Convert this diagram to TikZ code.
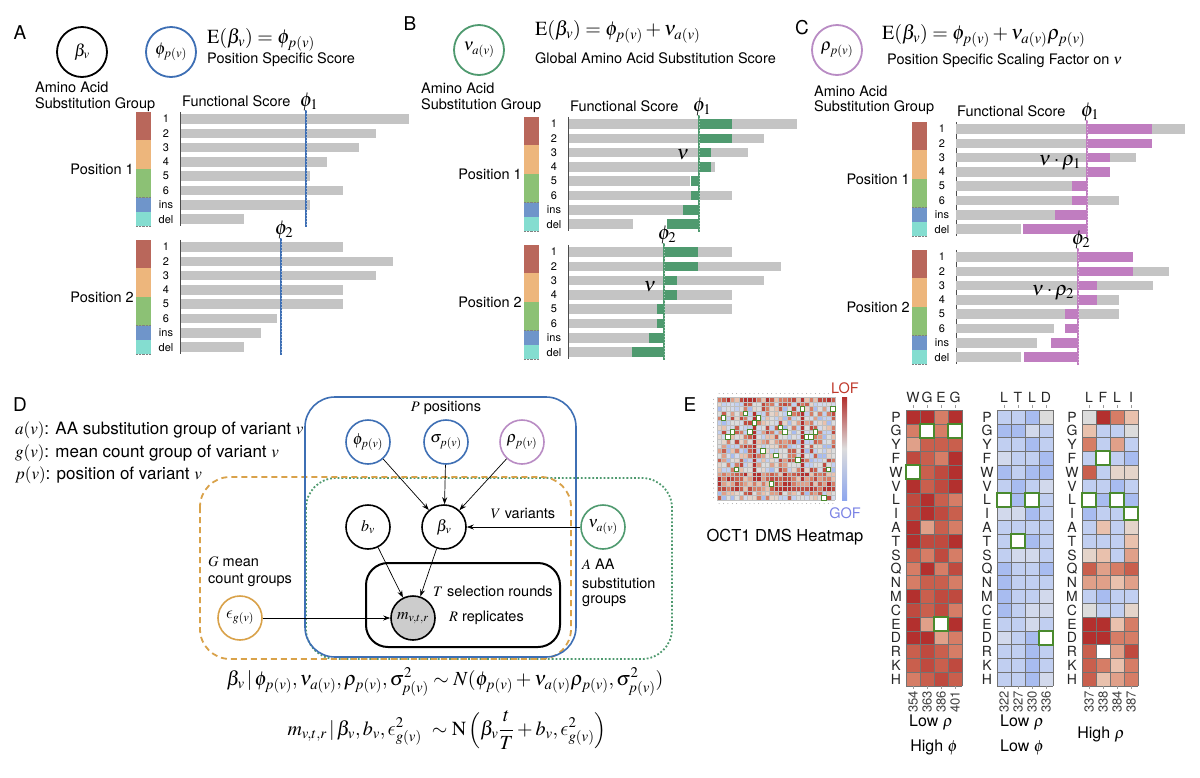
\documentclass[tikz,border=0pt]{standalone}
\usepackage{mathptmx}
\usepackage[no-math]{fontspec}
\setmainfont{TeX Gyre Heros}
\usetikzlibrary{arrows.meta}
% lunate epsilon from Computer Modern
\DeclareSymbolFont{cmletters}{OML}{cmm}{m}{it}
\DeclareMathSymbol{\lunateps}{\mathord}{cmletters}{"0F}

% substitution group colours
\definecolor{aared}{HTML}{B9675B}
\definecolor{aaorange}{HTML}{EDB67C}
\definecolor{aagreen}{HTML}{8CC175}
\definecolor{aablue}{HTML}{6F95CA}
\definecolor{aateal}{HTML}{84DDD0}
\definecolor{bargray}{HTML}{C4C4C4}
\definecolor{phiblue}{HTML}{3E6FB4}
\definecolor{nugreen}{HTML}{4F9A6F}
\definecolor{rhopurple}{HTML}{C07DC0}
\definecolor{circpurple}{HTML}{B98CC4}
\definecolor{epsorange}{HTML}{D9A24A}
\definecolor{hitgreen}{HTML}{4A8A2E}
\definecolor{lofred}{HTML}{C0392B}
\definecolor{gofblue}{HTML}{7B83E5}
% heatmap colours
\definecolor{hr4}{HTML}{B3302E}
\definecolor{hr3}{HTML}{BF4A3F}
\definecolor{hr2}{HTML}{C95F4D}
\definecolor{hr1}{HTML}{D67D66}
\definecolor{hr0}{HTML}{E0A089}
\definecolor{hs}{HTML}{E9C1AD}
\definecolor{hs2}{HTML}{E4D4CA}
\definecolor{hn}{HTML}{DCDCDC}
\definecolor{hb0}{HTML}{D2D9EC}
\definecolor{hb1}{HTML}{C1CFF1}
\definecolor{hb2}{HTML}{A8BCF0}
\definecolor{hb3}{HTML}{8EA7EE}
\definecolor{hw}{HTML}{FFFFFF}

\tikzset{
  txt/.style={font=\fontsize{14.5}{17}\selectfont, inner sep=0pt},
  bigtxt/.style={font=\fontsize{16}{18}\selectfont, inner sep=0pt},
  rowlbl/.style={font=\fontsize{11}{13}\selectfont, inner sep=0pt},
  panel/.style={font=\fontsize{19}{22}\selectfont, inner sep=0pt},
  eqn/.style={font=\fontsize{20}{24}\selectfont, inner sep=0pt},
  var/.style={circle, draw, line width=1.8pt, minimum size=50pt, inner sep=0pt, font=\fontsize{17}{20}\selectfont},
  pgmvar/.style={circle, draw, line width=1.6pt, minimum size=44pt, inner sep=0pt, font=\fontsize{16}{19}\selectfont},
  pgmarrow/.style={-{Stealth[length=7pt,width=5pt]}, line width=0.7pt},
  cell/.style={draw=black!55, line width=0.5pt},
  hit/.style={draw=hitgreen, line width=2pt, fill=white},
  hmlbl/.style={font=\fontsize{14}{14}\selectfont, inner sep=0pt, text=black!85},
  numlbl/.style={font=\fontsize{13}{13}\selectfont, inner sep=0pt, text=black!75},
}

% colour strip, row labels, axis and position label
\newcommand{\aablock}[3]{%
  \foreach \col/\lab [count=\i from 0] in {aared/1,aared/2,aaorange/3,aaorange/4,aagreen/5,aagreen/6,aablue/ins,aateal/del}{
    \fill[\col] (#1,#2+\i*14.3-7.15) rectangle ++(15,14.3);
    \draw[black!50, densely dotted, line width=0.4pt] (#1,#2+\i*14.3+7.15) -- ++(15,0);
    \node[rowlbl] at (#1+30,#2+\i*14.3) {\lab};
  }
  \draw[line width=1pt, black!70] (#1+44,#2-7.15) -- (#1+44,#2+107.25);
  \node[txt, anchor=east] at (#1-2,#2+50) {#3};
}
% horizontal bars from a start x to each end x
\newcommand{\scorebars}[4]{%
  \foreach \e [count=\i from 0] in {#4}{
    \fill[#1] (#2,#3+\i*14.3-4.75) rectangle (\e,#3+\i*14.3+4.75);
  }
}
% position score line with its label
\newcommand{\philine}[4]{%
  \draw[#1, line width=2.6pt] (#2,#3-9) -- (#2,#3+108);
  \draw[white, line width=0.5pt, dash pattern=on 0.6pt off 2.4pt, opacity=0.5] (#2,#3-9) -- (#2,#3+108);
  \node[eqn] at (#2+3,#3-17) {$#4$};
}
% one block of the DMS heatmap
\newcommand{\heatmap}[3]{%
  \foreach \row [count=\j from 0] in {#3}{
    \foreach \hc [count=\i from 0] in \row{
      \fill[\hc] (#1+\i*14,410+\j*13.8) rectangle ++(14,13.8);
    }
  }
  \foreach \i in {0,...,4} \draw[cell] (#1+\i*14,410) -- ++(0,276);
  \foreach \j in {0,...,20} \draw[cell] (#1,410+\j*13.8) -- ++(56,0);
  \foreach \aa [count=\j from 0] in {P,G,Y,F,W,V,L,I,A,T,S,Q,N,M,C,E,D,R,K,H}
    \node[hmlbl] at (#1-10,416.9+\j*13.8) {\aa};
  \foreach \aa/\num [count=\i from 0] in {#2}{
    \node[hmlbl] at (#1+7+\i*14,397) {\aa};
    \draw[black!40, line width=0.4pt] (#1+7+\i*14,405) -- ++(0,3);
    \draw[black!40, line width=0.4pt] (#1+7+\i*14,686) -- ++(0,3);
    \node[numlbl, rotate=90, anchor=east] at (#1+7+\i*14,691) {\num};
  }
}

\begin{document}
\begin{tikzpicture}[x=1pt, y=-1pt]
  \useasboundingbox (0,0) rectangle (1200,777);
  \fill[white] (0,0) rectangle (1200,777);

  % ---------------- panel A
  \node[panel] (labA) at (20,33) {A};
  \node[var] (betaA) at (82,52) {$\beta_v$};
  \node[var, draw=phiblue] (phiA) at (171,52) {$\phi_{p(v)}$};
  \node[eqn, anchor=west] (eqA) at (207,40) {$\mathrm{E}(\beta_v)=\phi_{p(v)}$};
  \node[txt, anchor=west] (subA) at (207,60) {Position Specific Score};
  \node[txt, anchor=west] at (35,87) {Amino Acid};
  \node[txt, anchor=west] at (35,105) {Substitution Group};
  \node[txt, anchor=west] at (182,101) {Functional Score};
  % position 1
  \aablock{136}{119}{Position 1}
  \scorebars{bargray}{181}{119}{409,376,359,327,310,343,310,244}
  \philine{phiblue}{306}{119}{\phi_1}
  % position 2
  \aablock{136}{247}{Position 2}
  \scorebars{bargray}{181}{247}{343,393,376,343,343,277,261,244}
  \philine{phiblue}{281}{247}{\phi_2}

  % ---------------- panel B
  \node[panel] (labB) at (410,24) {B};
  \node[var, draw=nugreen] (nuB) at (479,50) {$\nu_{a(v)}$};
  \node[eqn, anchor=west] (eqB) at (535,32) {$\mathrm{E}(\beta_v)=\phi_{p(v)}+\nu_{a(v)}$};
  \node[txt, anchor=west] (subB) at (535,58) {Global Amino Acid Substitution Score};
  \node[txt, anchor=west] at (421,88) {Amino Acid};
  \node[txt, anchor=west] at (421,106) {Substitution Group};
  \node[txt, anchor=west] at (570,106) {Functional Score};
  % position 1
  \aablock{524}{124}{Position 1}
  \scorebars{bargray}{569}{124}{797,764,748,715,690,732,683,633}
  \scorebars{nugreen}{699}{124}{732,732,711,711,691,691,683,667}
  \philine{nugreen}{699}{124}{\phi_1}
  \node[eqn] at (683,155) {$\nu$};
  % position 2
  \aablock{524}{252}{Position 2}
  \scorebars{bargray}{569}{252}{732,781,764,732,732,660,650,633}
  \scorebars{nugreen}{664}{252}{698,698,677,677,657,657,649,632}
  \philine{nugreen}{664}{252}{\phi_2}
  \node[eqn] at (650,287) {$\nu$};

  % ---------------- panel C
  \node[panel] (labC) at (802,28) {C};
  \node[var, draw=circpurple] (rhoC) at (837,50) {$\rho_{p(v)}$};
  \node[eqn, anchor=west] (eqC) at (882,36) {$\mathrm{E}(\beta_v)=\phi_{p(v)}+\nu_{a(v)}\rho_{p(v)}$};
  \node[txt, anchor=west] (subC) at (887,61) {Position Specific Scaling Factor on $\nu$};
  \node[txt, anchor=west] at (814,91) {Amino Acid};
  \node[txt, anchor=west] at (814,108) {Substitution Group};
  \node[txt, anchor=west] at (957,111) {Functional Score};
  % position 1
  \aablock{912}{129}{Position 1}
  \scorebars{bargray}{956}{129}{1185,1152,1136,1100,1087,1119,1055,1021}
  \scorebars{rhopurple}{1087}{129}{1152,1152,1110,1110,1072,1072,1055,1023}
  \philine{rhopurple}{1087}{129}{\phi_1}
  \node[eqn] at (1060,163) {$\nu\cdot\rho_1$};
  % position 2
  \aablock{912}{257}{Position 2}
  \scorebars{bargray}{956}{257}{1133,1169,1153,1119,1119,1054,1037,1021}
  \scorebars{rhopurple}{1078}{257}{1133,1133,1097,1097,1065,1065,1051,1024}
  \philine{rhopurple}{1078}{257}{\phi_2}
  \node[eqn] at (1053,293) {$\nu\cdot\rho_2$};

  % ---------------- panel D
  \node[panel] (labD) at (20,405) {D};
  \node[bigtxt, font=\fontsize{17}{19}\selectfont, anchor=west] at (15,430) {$a(v)$: AA substitution group of variant $v$};
  \node[bigtxt, font=\fontsize{17}{19}\selectfont, anchor=west] at (15,453) {$g(v)$: mean count group of variant $v$};
  \node[bigtxt, font=\fontsize{17}{19}\selectfont, anchor=west] at (15,475) {$p(v)$: position of variant $v$};
  % plates
  \draw[nugreen, line width=1.8pt, dotted, rounded corners=30pt] (306,478) rectangle (672,659);
  \draw[epsorange, line width=1.8pt, dash pattern=on 6pt off 4pt, rounded corners=30pt] (200,477) rectangle (571,659);
  \draw[phiblue, line width=1.6pt, rounded corners=30pt] (305,397) rectangle (576,657);
  \draw[line width=2pt, rounded corners=22pt] (366,563) rectangle (560,647);
  % variables
  \node[pgmvar, draw=phiblue] (phi) at (368,442) {$\phi_{p(v)}$};
  \node[pgmvar, draw=phiblue] (sigma) at (446,442) {$\sigma_{p(v)}$};
  \node[pgmvar, draw=circpurple] (rho) at (522,442) {$\rho_{p(v)}$};
  \node[pgmvar] (b) at (368,527) {$b_v$};
  \node[pgmvar] (beta) at (444,527) {$\beta_v$};
  \node[pgmvar, draw=nugreen] (nu) at (603,527) {$\nu_{a(v)}$};
  \node[pgmvar, draw=epsorange] (eps) at (240,618) {$\lunateps_{g(v)}$};
  \node[pgmvar, fill=black!20] (m) at (413,618) {$m_{v,t,r}$};
  % plate labels
  \node[txt] at (446,408) {$P$ positions};
  \node[txt] at (523,513) {$V$ variants};
  \node[txt, anchor=west] at (433,591) {$T$ selection rounds};
  \node[txt, anchor=west] at (449,618) {$R$ replicates};
  \node[txt, anchor=west] at (208,562) {$G$ mean};
  \node[txt, anchor=west] at (208,580) {count groups};
  \node[txt, anchor=west] at (582,564) {$A$ AA};
  \node[txt, anchor=west] at (582,583) {substitution};
  \node[txt, anchor=west] at (582,601) {groups};
  % edges
  \draw[pgmarrow] (phi) -- (beta);
  \draw[pgmarrow] (sigma) -- (beta);
  \draw[pgmarrow] (rho) -- (beta);
  \draw[pgmarrow] (nu) -- (beta);
  \draw[pgmarrow] (b) -- (m);
  \draw[pgmarrow] (beta) -- (m);
  \draw[pgmarrow] (eps) -- (m);
  % model
  \node[eqn] (eq1) at (445,682) {$\beta_v\,|\,\phi_{p(v)},\nu_{a(v)},\rho_{p(v)},\sigma^2_{p(v)}\sim N(\phi_{p(v)}+\nu_{a(v)}\rho_{p(v)},\sigma^2_{p(v)})$};
  \node[eqn] (eq2) at (447,730) {$\displaystyle m_{v,t,r}\,|\,\beta_v,b_v,\lunateps^2_{g(v)}\ \sim\mathrm{N}\left(\beta_v\frac{t}{T}+b_v,\lunateps^2_{g(v)}\right)$};

  % ---------------- panel E
  \node[panel] (labE) at (690,405) {E};
  % overview heatmap
  \pgfmathdeclarerandomlist{heatlist}{{hr3}{hr2}{hr1}{hr0}{hs}{hs2}{hn}{hn}{hb0}{hb1}{hb1}{hb2}}
  \pgfmathdeclarerandomlist{redlist}{{hr4}{hr3}{hr2}{hr1}{hr0}{hs}}
  \pgfmathsetseed{11}
  \foreach \j in {0,...,21}{
    \foreach \i in {0,...,26}{
      \pgfmathrandomitem{\hc}{heatlist}
      \ifnum\j>15 \ifnum\j<20 \pgfmathrandomitem{\hc}{redlist}\fi\fi
      \ifnum\j=0 \pgfmathrandomitem{\hc}{redlist}\fi
      \fill[\hc] (717+\i*4.37,397+\j*4.68) rectangle ++(4.37,4.68);
    }
  }
  \foreach \i in {8,19}
    \fill[hr4] (717+\i*4.37,397+3*4.68) rectangle ++(4.37,15*4.68);
  \foreach \i in {0,...,27} \draw[black!25, line width=0.2pt] (717+\i*4.37,397) -- ++(0,102.96);
  \foreach \j in {0,...,22} \draw[black!25, line width=0.2pt] (717,397+\j*4.68) -- ++(117.99,0);
  \foreach \i in {0,...,26} {
    \fill[black!35] (717+2.2+\i*4.37,393.5) circle (0.5pt);
    \fill[black!35] (717+2.2+\i*4.37,503.5) circle (0.5pt);
  }
  \foreach \j in {0,...,21} \fill[black!35] (713.5,397+2.3+\j*4.68) circle (0.5pt);
  \foreach \i/\j in {6/3,1/4,9/4,8/5,16/3,19/2,26/2,14/6,15/7,3/7,7/7,2/8,20/8,22/7,21/8,10/11,13/12,18/13,4/15,25/15,12/18,24/21}
    \draw[hitgreen, line width=0.8pt, fill=white] (717+\i*4.37,397+\j*4.68) rectangle ++(4.37,4.68);
  \shade[top color=hr4, bottom color=hb3, middle color=hn] (842,397) rectangle (847,500);
  \node[txt, text=lofred] at (845,388) {LOF};
  \node[txt, text=gofblue] at (845,513) {GOF};
  \node[bigtxt, font=\fontsize{16.5}{19}\selectfont] at (785,537) {OCT1 DMS Heatmap};
  % low rho, high phi
  \heatmap{906}{W/354,G/363,E/386,G/401}{
    {hr4,hr4,hr1,hr4},{hr1,hw,hr1,hw},{hr0,hr2,hr2,hr2},{hr3,hr2,hr1,hr4},
    {hw,hr2,hr3,hr4},{hr4,hr2,hr3,hr4},{hr3,hr4,hr2,hr1},{hr3,hr4,hr3,hr2},
    {hr4,hr0,hr2,hr1},{hr4,hr3,hr3,hr4},{hr2,hr1,hr3,hr1},{hr1,hr4,hr1,hr3},
    {hr1,hr2,hr2,hr1},{hr4,hr2,hr3,hr3},{hr3,hr2,hr3,hr1},{hr4,hr0,hw,hr4},
    {hr4,hr4,hr0,hr1},{hr2,hr3,hr2,hr1},{hr2,hr3,hr2,hr3},{hr1,hr2,hr3,hr2}}
  \foreach \i/\j in {1/1,3/1,0/4,2/15}
    \draw[hit] (906+\i*14,410+\j*13.8) rectangle ++(14,13.8);
  \node[bigtxt] at (931,723) {Low $\rho$};
  \node[bigtxt] at (934,747) {High $\phi$};
  % low rho, low phi
  \heatmap{997}{L/322,T/327,L/330,D/336}{
    {hb1,hb1,hb2,hn},{hb2,hb2,hb0,hb1},{hb1,hb1,hb2,hb1},{hb0,hb1,hb1,hb2},
    {hb2,hb1,hb2,hb2},{hb1,hb2,hb1,hb0},{hw,hb2,hw,hb1},{hb0,hb0,hb2,hb1},
    {hb1,hb1,hb1,hb1},{hb1,hw,hb2,hb1},{hb1,hb0,hb0,hb1},{hb2,hb1,hb1,hb2},
    {hb2,hb1,hb1,hb1},{hb2,hb1,hb1,hb0},{hb2,hb1,hb0,hb0},{hb1,hb1,hb0,hb1},
    {hb0,hb1,hb2,hw},{hb1,hb1,hb2,hb1},{hb1,hb1,hb2,hb1},{hb1,hb1,hb2,hb0}}
  \foreach \i/\j in {0/6,2/6,1/9,3/16}
    \draw[hit] (997+\i*14,410+\j*13.8) rectangle ++(14,13.8);
  \node[bigtxt] at (1022,723) {Low $\rho$};
  \node[bigtxt] at (1022,747) {Low $\phi$};
  % high rho
  \heatmap{1082}{L/337,F/338,L/384,I/387}{
    {hn,hr4,hr1,hs},{hs,hb1,hb1,hn},{hr1,hb1,hr0,hb1},{hb1,hw,hb1,hb2},
    {hr2,hb1,hs2,hs2},{hb1,hb1,hb2,hb1},{hw,hb2,hw,hb2},{hb2,hb1,hb1,hw},
    {hb1,hs,hb1,hs2},{hb1,hb1,hb1,hs},{hs2,hs,hb1,hr0},{hr2,hr0,hr1,hr2},
    {hr0,hr0,hs,hr0},{hb1,hb2,hb1,hb1},{hn,hb1,hb1,hs2},{hr4,hr4,hs,hr1},
    {hr4,hr4,hr1,hr1},{hr2,hw,hr0,hr3},{hr2,hr1,hs,hr1},{hr2,hs,hr0,hr1}}
  \foreach \i/\j in {1/3,0/6,2/6,3/7}
    \draw[hit] (1082+\i*14,410+\j*13.8) rectangle ++(14,13.8);
  \node[bigtxt] at (1101,735) {High $\rho$};
\end{tikzpicture}
\end{document}
